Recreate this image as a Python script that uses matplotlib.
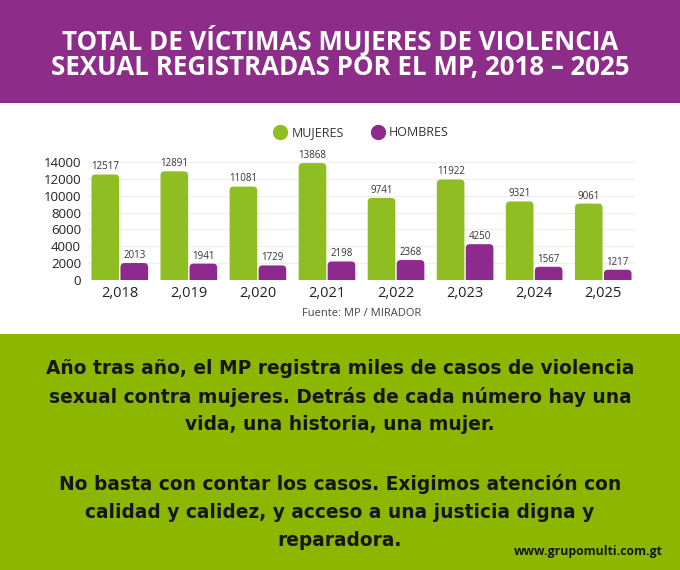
import numpy as np
import matplotlib.pyplot as plt
from matplotlib.patches import Rectangle, FancyBboxPatch
from matplotlib.lines import Line2D

# datos
years = ['2,018', '2,019', '2,020', '2,021', '2,022', '2,023', '2,024', '2,025']
mujeres = [12517, 12891, 11081, 13868, 9741, 11922, 9321, 9061]
hombres = [2013, 1941, 1729, 2198, 2368, 4250, 1567, 1217]

purple = '#8E2D89'
green_bg = '#8DB600'
green_bar = '#8FBE22'
purple_bar = '#8E2A8E'

plt.rcParams['font.family'] = ['Open Sans', 'DejaVu Sans']

fig = plt.figure(figsize=(6.8, 5.7), dpi=100)
fig.patch.set_facecolor('white')

# bandas de fondo
fig.patches.append(Rectangle((0, 1 - 103 / 570), 1, 103 / 570, transform=fig.transFigure,
                             facecolor=purple, edgecolor='none', zorder=0))
fig.patches.append(Rectangle((0, 0), 1, 236 / 570, transform=fig.transFigure,
                             facecolor=green_bg, edgecolor='none', zorder=0))

fig.text(0.5, 1 - 40 / 570, 'TOTAL DE VÍCTIMAS MUJERES DE VIOLENCIA', color='white',
         fontsize=18.6, fontweight='bold', ha='center', va='center')
fig.text(0.5, 1 - 68 / 570, 'SEXUAL REGISTRADAS POR EL MP, 2018 – 2025', color='white',
         fontsize=18.6, fontweight='bold', ha='center', va='center')

ax = fig.add_axes([88 / 680, 1 - 280 / 570, 547 / 680, 118 / 570])
x = np.arange(len(years))
w = 0.4
ax.set_ylim(0, 14000)
ax.set_xlim(-0.46, 7.46)

# barras con esquinas redondeadas
ypp = 14000 / 118
xpp = 7.92 / 547
rad = 4 * xpp
for xs, vals, col in ((x - 0.21, mujeres, green_bar), (x + 0.21, hombres, purple_bar)):
    for xi, v in zip(xs, vals):
        p = FancyBboxPatch((xi - w / 2, -600), w, v + 600,
                           boxstyle=f'round,pad=0,rounding_size={rad}',
                           mutation_aspect=ypp / xpp, facecolor=col, edgecolor='none',
                           zorder=3)
        ax.add_patch(p)
        ax.text(xi, v + 250, str(v), ha='center', va='bottom',
                fontsize=7, color='#333333', clip_on=False)

ax.set_yticks(range(0, 14001, 2000))
ax.set_xticks(x)
ax.set_xticklabels(years, fontsize=10.5, color='#222222')
ax.tick_params(axis='y', labelsize=9.5, colors='#222222', length=0, pad=5)
ax.tick_params(axis='x', length=0, pad=4)
ax.grid(axis='y', color='#eeeeee', linewidth=0.8, zorder=0)
for s in ax.spines.values():
    s.set_visible(False)

handles = [Line2D([], [], ls='none', marker='o', markersize=10, color=green_bar),
           Line2D([], [], ls='none', marker='o', markersize=10, color=purple_bar)]
ax.legend(handles, ['MUJERES', 'HOMBRES'], loc='center', bbox_to_anchor=(0.5, 1.25), ncol=2,
          frameon=False, fontsize=9, handlelength=1, columnspacing=2.2, handletextpad=0.4,
          labelcolor='#333333')

fig.text(362 / 680, 1 - 314 / 570, 'Fuente: MP / MIRADOR', fontsize=8, color='#444444',
         ha='center', va='center')

body = [
    'Año tras año, el MP registra miles de casos de violencia',
    'sexual contra mujeres. Detrás de cada número hay una',
    'vida, una historia, una mujer.',
    '',
    'No basta con contar los casos. Exigimos atención con',
    'calidad y calidez, y acceso a una justicia digna y',
    'reparadora.',
]
ys = [368, 397, 425, None, 484, 513, 541]
for line, yy in zip(body, ys):
    if line:
        fig.text(0.5, 1 - yy / 570, line, fontsize=13.4, fontweight='bold', color='#161616',
                 ha='center', va='center', family='DejaVu Sans')

fig.text(663 / 680, 1 - 551 / 570, 'www.grupomulti.com.gt', fontsize=8.8, fontweight='bold',
         color='#161616', ha='right', va='center')

fig.savefig('out.png', dpi=100)
